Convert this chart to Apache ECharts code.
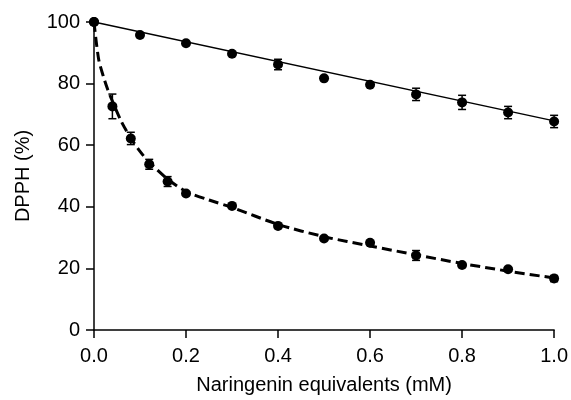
<!DOCTYPE html>
<html><head><meta charset="utf-8">
<script src="https://cdn.jsdelivr.net/npm/echarts@6/dist/echarts.min.js"></script>
<style>html,body{margin:0;padding:0;background:#fff}#c{width:571px;height:400px}</style>
</head><body><div id="c"></div>
<script>
var linX = [0, 0.1, 0.2, 0.3, 0.4, 0.5, 0.6, 0.7, 0.8, 0.9, 1.0];
var linY = [100, 95.8, 93.1, 89.7, 86.2, 81.7, 79.6, 76.5, 73.9, 70.6, 67.7];
var linErr = [0.3, 0.4, 0.4, 0.5, 1.7, 0.4, 0.5, 2.0, 2.3, 2.0, 2.0];
var linFitX = [0, 1.0];
var linFitY = [100, 67.9];

var curX = [0, 0.04, 0.08, 0.12, 0.16, 0.2, 0.3, 0.4, 0.5, 0.6, 0.7, 0.8, 0.9, 1.0];
var curY = [100, 72.6, 62.2, 53.8, 48.2, 44.3, 40.3, 33.8, 29.7, 28.3, 24.2, 21.1, 19.7, 16.7];
var curErr = [0.3, 4.0, 2.0, 1.6, 1.6, 0.6, 0.6, 0.6, 0.5, 0.5, 1.6, 0.6, 0.6, 1.0];
var curFitX = [0, 0.01, 0.02, 0.03, 0.04, 0.06, 0.08, 0.1, 0.12, 0.16, 0.2, 0.25, 0.3, 0.4, 0.5, 0.6, 0.7, 0.8, 0.9, 1.0];
var curFitY = [100, 88, 82.5, 78, 74.3, 67.5, 62.3, 58, 54.5, 49, 45, 42.2, 39.8, 34.3, 30.3, 27.3, 24.4, 21.6, 19.1, 16.9];

var xTicks = [0, 0.2, 0.4, 0.6, 0.8, 1.0];
var yTicks = [0, 20, 40, 60, 80, 100];

function pairs(xs, ys){ return xs.map(function(x,i){return [x, ys[i]];}); }
function errs(xs, ys, es){ return xs.map(function(x,i){return [x, ys[i]-es[i], ys[i]+es[i]];}); }

function errRender(params, api){
  var x = api.value(0), lo = api.value(1), hi = api.value(2);
  var p1 = api.coord([x, hi]), p2 = api.coord([x, lo]);
  var w = 4;
  var st = {stroke:'#000', lineWidth:1.5};
  return {type:'group', children:[
    {type:'line', shape:{x1:p1[0],y1:p1[1],x2:p2[0],y2:p2[1]}, style:st},
    {type:'line', shape:{x1:p1[0]-w,y1:p1[1],x2:p1[0]+w,y2:p1[1]}, style:st},
    {type:'line', shape:{x1:p2[0]-w,y1:p2[1],x2:p2[0]+w,y2:p2[1]}, style:st}
  ]};
}

var chart = echarts.init(document.getElementById('c'), null, {renderer:'canvas'});
var font = 'Liberation Sans, Arial, sans-serif';
chart.setOption({
  animation:false,
  backgroundColor:'#fff',
  grid:{left:94, right:15, top:22, bottom:70, containLabel:false},
  xAxis:{
    type:'value', min:0, max:1, interval:0.2,
    name:'Naringenin equivalents (mM)', nameLocation:'middle', nameGap:45,
    nameTextStyle:{fontFamily:font, fontSize:20, color:'#000'},
    axisLine:{show:true, onZero:false, lineStyle:{color:'#000', width:1.5}},
    axisTick:{show:true, length:8, lineStyle:{color:'#000', width:1.5}},
    axisLabel:{fontFamily:font, fontSize:20, color:'#000', margin:16,
      formatter:function(v){return v.toFixed(1);}},
    splitLine:{show:false}
  },
  yAxis:{
    type:'value', min:0, max:100, interval:20,
    name:'DPPH (%)', nameLocation:'middle', nameGap:61, nameRotate:90,
    nameTextStyle:{fontFamily:font, fontSize:20, color:'#000'},
    axisLine:{show:true, lineStyle:{color:'#000', width:1.5}},
    axisTick:{show:true, length:8, lineStyle:{color:'#000', width:1.5}},
    axisLabel:{fontFamily:font, fontSize:20, color:'#000', margin:14},
    splitLine:{show:false}
  },
  series:[
    {type:'line', data:pairs(linFitX, linFitY), symbol:'none',
      lineStyle:{color:'#000', width:1.5}, z:2},
    {type:'line', data:pairs(curFitX, curFitY), symbol:'none', smooth:0.3,
      lineStyle:{color:'#000', width:3, type:[10,5]}, z:2},
    {type:'custom', data:errs(linX, linY, linErr), renderItem:errRender, z:3},
    {type:'custom', data:errs(curX, curY, curErr), renderItem:errRender, z:3},
    {type:'scatter', data:pairs(linX, linY), symbol:'circle', symbolSize:10,
      itemStyle:{color:'#000', opacity:1}, z:4},
    {type:'scatter', data:pairs(curX, curY), symbol:'circle', symbolSize:10,
      itemStyle:{color:'#000', opacity:1}, z:4}
  ]
});
</script></body></html>
